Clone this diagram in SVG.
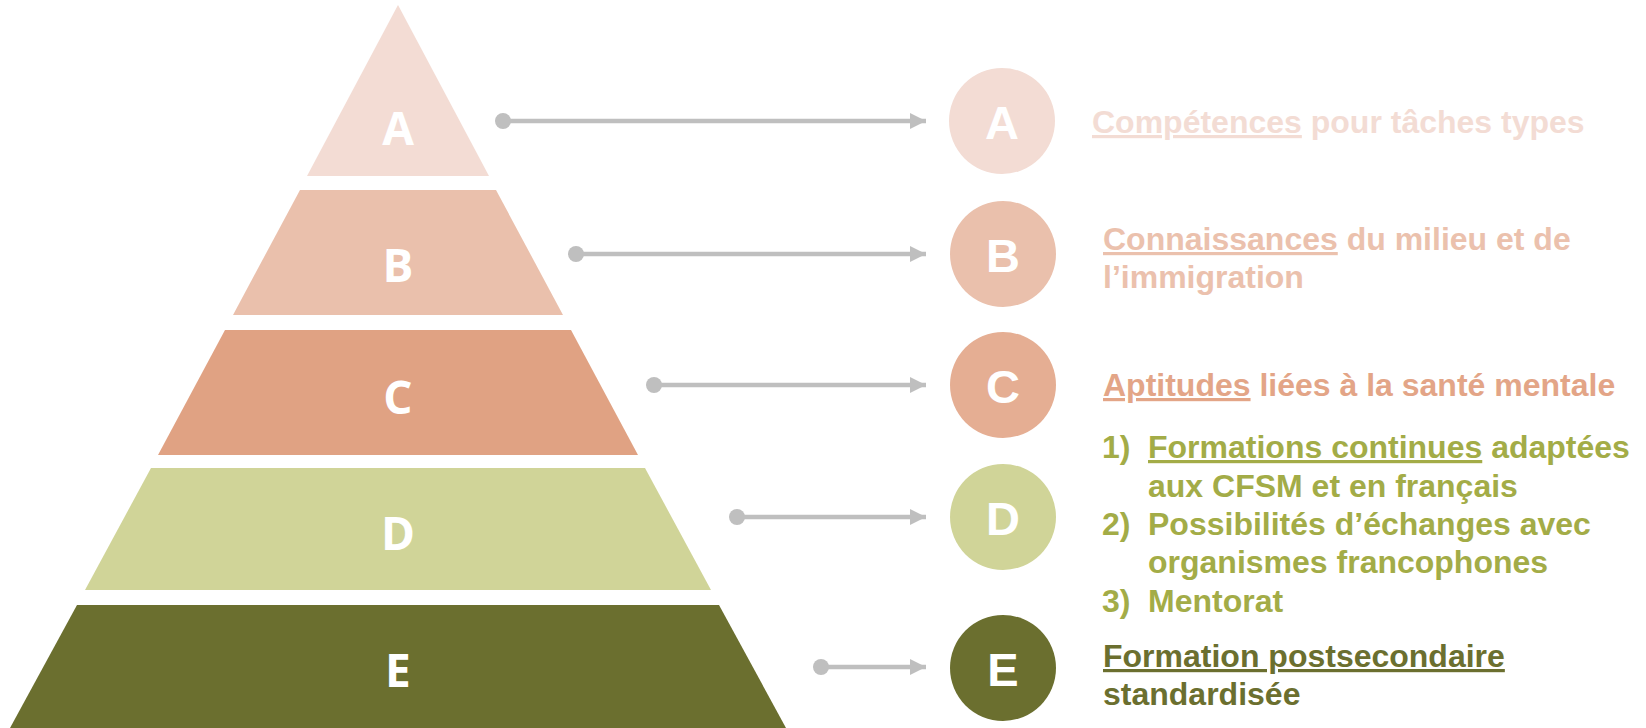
<svg xmlns="http://www.w3.org/2000/svg" width="1646" height="728" viewBox="0 0 1646 728">
<style>
.plet{font-family:"Open Sans","Liberation Sans",sans-serif;font-weight:700;font-size:46px;fill:#fff;text-anchor:middle}
.clet{font-family:"Liberation Sans",Arial,sans-serif;font-weight:700;font-size:47px;fill:#fff;text-anchor:middle}
.desc{font-family:"Liberation Sans",Arial,sans-serif;font-weight:700;font-size:32px}
.u{text-decoration:underline}
.conn{stroke:#BFBFBF;stroke-width:4.5;fill:none;marker-end:url(#ah)}
.dot{fill:#BFBFBF}
</style>
<defs>
<marker id="ah" markerUnits="userSpaceOnUse" markerWidth="18" markerHeight="18" refX="16" refY="8" orient="auto">
<path d="M0,0 L16,8 L0,16 Z" fill="#BFBFBF"/>
</marker>
</defs>
<rect width="1646" height="728" fill="#fff"/>
<g id="levelA">
<polygon points="398,5 489,176 307,176" fill="#F3DCD4"/>
<text class="plet" x="398" y="145">A</text>
</g>
<g id="levelB">
<polygon points="300,190 496,190 563,315 233,315" fill="#EAC0AC"/>
<text class="plet" x="398" y="282">B</text>
</g>
<g id="levelC">
<polygon points="225,330 571,330 638,455 158,455" fill="#E0A283"/>
<text class="plet" x="398" y="414">C</text>
</g>
<g id="levelD">
<polygon points="151,468 645,468 711,590 85,590" fill="#D0D498"/>
<text class="plet" x="398" y="550">D</text>
</g>
<g id="levelE">
<polygon points="77,605 719,605 786,728 10,728" fill="#6B6F2F"/>
<text class="plet" x="398" y="687">E</text>
</g>
<g id="connectors">
<circle class="dot" cx="503" cy="121" r="8"/>
<line class="conn" x1="503" y1="121" x2="926" y2="121"/>
<circle class="dot" cx="576" cy="254" r="8"/>
<line class="conn" x1="576" y1="254" x2="926" y2="254"/>
<circle class="dot" cx="654" cy="385" r="8"/>
<line class="conn" x1="654" y1="385" x2="926" y2="385"/>
<circle class="dot" cx="737" cy="517" r="8"/>
<line class="conn" x1="737" y1="517" x2="926" y2="517"/>
<circle class="dot" cx="821" cy="667" r="8"/>
<line class="conn" x1="821" y1="667" x2="926" y2="667"/>
</g>
<g id="circleA">
<circle cx="1002" cy="121" r="53" fill="#F3DCD4"/>
<text class="clet" x="1002" y="139">A</text>
</g>
<g id="circleB">
<circle cx="1003" cy="254" r="53" fill="#EAC0AC"/>
<text class="clet" x="1003" y="272">B</text>
</g>
<g id="circleC">
<circle cx="1003" cy="385" r="53" fill="#E5AE93"/>
<text class="clet" x="1003" y="403">C</text>
</g>
<g id="circleD">
<circle cx="1003" cy="517" r="53" fill="#D0D498"/>
<text class="clet" x="1003" y="535">D</text>
</g>
<g id="circleE">
<circle cx="1003" cy="668" r="53" fill="#6B6F2F"/>
<text class="clet" x="1003" y="686">E</text>
</g>
<g id="textA">
<text class="desc" x="1092" y="133" fill="#F3DCD4"><tspan class="u">Compétences</tspan> pour tâches types</text>
</g>
<g id="textB">
<text class="desc" x="1103" y="250" fill="#EBC1AD"><tspan class="u">Connaissances</tspan> du milieu et de</text>
<text class="desc" x="1103" y="288" fill="#EBC1AD">l’immigration</text>
</g>
<g id="textC">
<text class="desc" x="1103" y="396" fill="#E3A587"><tspan class="u">Aptitudes</tspan> liées à la santé mentale</text>
</g>
<g id="textD" fill="#A3AC47">
<text class="desc" x="1102" y="458">1)</text>
<text class="desc" x="1148" y="458"><tspan class="u">Formations continues</tspan> adaptées</text>
<text class="desc" x="1148" y="497">aux CFSM et en français</text>
<text class="desc" x="1102" y="535">2)</text>
<text class="desc" x="1148" y="535">Possibilités d’échanges avec</text>
<text class="desc" x="1148" y="573">organismes francophones</text>
<text class="desc" x="1102" y="612">3)</text>
<text class="desc" x="1148" y="612">Mentorat</text>
</g>
<g id="textE" fill="#6B6F2F">
<text class="desc" x="1103" y="667"><tspan class="u">Formation postsecondaire</tspan></text>
<text class="desc" x="1103" y="705">standardisée</text>
</g>
</svg>
